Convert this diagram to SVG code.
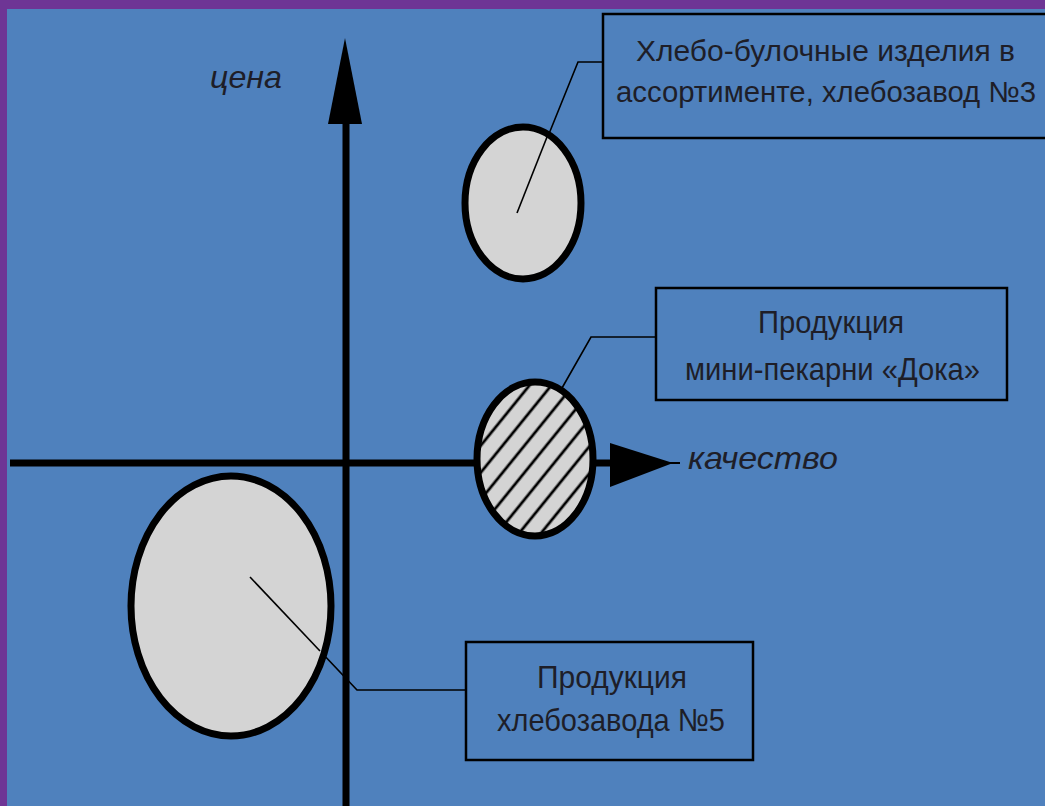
<svg xmlns="http://www.w3.org/2000/svg" width="1045" height="806" viewBox="0 0 1045 806">
<style>
.lbl{font-family:"Liberation Sans",Arial,sans-serif;font-size:32px;fill:#1e1e28}
.lbl1{font-size:29px}
.ax{font-family:"Liberation Sans",Arial,sans-serif;font-size:32px;font-style:italic;fill:#1e1e28}
.box{fill:none;stroke:#000;stroke-width:2.5}
.lead{fill:none;stroke:#000;stroke-width:1.6}
.disk{fill:#d4d4d4;stroke:#000;stroke-width:7}
.axis{stroke:#000;stroke-width:7;fill:none}
</style>
<defs>
<pattern id="hatch" width="17" height="17" patternUnits="userSpaceOnUse" patternTransform="rotate(39)">
<rect width="17" height="17" fill="#d4d4d4"/>
<line x1="8" y1="0" x2="8" y2="17" stroke="#000" stroke-width="2.8"/>
</pattern>
</defs>
<rect x="0" y="0" width="1045" height="806" fill="#6e3595"/>
<rect x="7" y="9" width="1038" height="797" fill="#4f81bd"/>
<g id="axes">
<line class="axis" x1="10" y1="463" x2="612" y2="463"/>
<polygon points="610,443 673,463 610,487" fill="#000"/>
<line x1="670" y1="463" x2="680" y2="463" stroke="#000" stroke-width="2"/>
<line class="axis" x1="346" y1="120" x2="346" y2="806"/>
<polygon points="328,124 345,38 362,124" fill="#000"/>
<text class="ax" x="210" y="88" textLength="72" lengthAdjust="spacingAndGlyphs">цена</text>
<text class="ax" x="688" y="469" textLength="150" lengthAdjust="spacingAndGlyphs">качество</text>
</g>
<g id="connectors">
<polyline class="lead" points="517,213 578,62 604,62"/>
<polyline class="lead" points="562,388 591,337 656,337"/>
<polyline class="lead" points="250,577 357,690 466,690"/>
</g>
<g id="node-zavod3">
<ellipse class="disk" cx="523" cy="203" rx="58" ry="76"/>
<line class="lead" x1="517" y1="213" x2="547" y2="137"/>
</g>
<g id="node-doka">
<ellipse cx="535" cy="459" rx="58" ry="77" fill="url(#hatch)" stroke="#000" stroke-width="7"/>
</g>
<g id="node-zavod5">
<ellipse class="disk" cx="231" cy="606" rx="100" ry="130"/>
<line class="lead" x1="250" y1="577" x2="320" y2="651"/>
</g>
<g id="box-zavod3">
<rect class="box" x="603" y="14" width="460" height="124"/>
<text class="lbl lbl1" x="636" y="61" textLength="379" lengthAdjust="spacingAndGlyphs">Хлебо-булочные изделия в</text>
<text class="lbl lbl1" x="616" y="102" textLength="420" lengthAdjust="spacingAndGlyphs">ассортименте, хлебозавод №3</text>
</g>
<g id="box-doka">
<rect class="box" x="656" y="288" width="351" height="112"/>
<text class="lbl" x="758" y="333" textLength="146" lengthAdjust="spacingAndGlyphs">Продукция</text>
<text class="lbl" x="685" y="380" textLength="295" lengthAdjust="spacingAndGlyphs">мини-пекарни «Дока»</text>
</g>
<g id="box-zavod5">
<rect class="box" x="466" y="642" width="287" height="118"/>
<text class="lbl" x="537" y="688" textLength="150" lengthAdjust="spacingAndGlyphs">Продукция</text>
<text class="lbl" x="497" y="731" textLength="228" lengthAdjust="spacingAndGlyphs">хлебозавода №5</text>
</g>
</svg>
